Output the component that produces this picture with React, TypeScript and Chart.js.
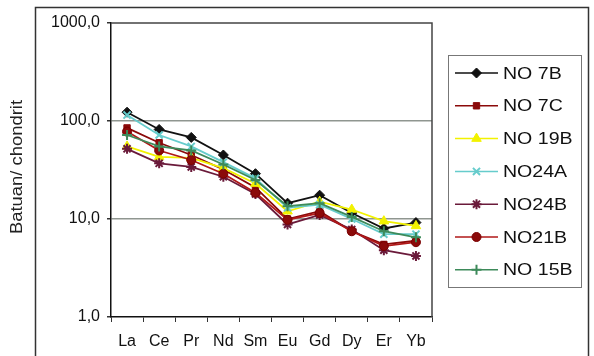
import React, { useEffect, useRef } from "react";
import { Chart, registerables } from "chart.js";
import { drawPoint } from "chart.js/helpers";

Chart.register(...registerables);

const categories = ["La", "Ce", "Pr", "Nd", "Sm", "Eu", "Gd", "Dy", "Er", "Yb"];
const yTicks = [1, 10, 100, 1000];
const yTitle = "Batuan/ chondrit";

const no7B = [123, 82, 68, 45, 29, 14.5, 17.5, 11.5, 8.0, 9.2];
const no7C = [85, 60, 45, 32, 21, 10.0, 12.0, 7.5, 5.5, 6.0];
const no19B = [55, 43, 42, 33, 23, 12.0, 15.0, 12.5, 9.5, 8.5];
const no24A = [115, 72, 55, 38, 26, 13.0, 14.0, 10.0, 7.0, 7.0];
const no24B = [52, 37, 34, 27, 18, 8.8, 11.0, 7.8, 4.8, 4.2];
const no21B = [78, 50, 40, 29, 18.5, 9.8, 11.5, 7.5, 5.3, 5.8];
const no15B = [72, 55, 50, 36, 25, 13.5, 14.5, 10.5, 7.5, 6.5];

const seriesNames = ["NO 7B", "NO 7C", "NO 19B", "NO24A", "NO24B", "NO21B", "NO 15B"];
const seriesData = [no7B, no7C, no19B, no24A, no24B, no21B, no15B];
const lineColors = ["#111111", "#8b0a0a", "#f2f200", "#66cccc", "#6a1a3a", "#b01818", "#3d8a5a"];
const markerFill = ["#111111", "#8b0a0a", "#f2f200", "#66cccc", "#6a1a3a", "#8b0a0a", "#3d8a5a"];
const markerStyles = ["rectRot", "rect", "triangle", "crossRot", "star", "circle", "cross"];
const markerRadius = [5, 4.5, 5.5, 5, 5, 4.5, 5];

const FONT = "'Liberation Sans', Arial, sans-serif";

const extrasPlugin = {
  id: "extras",
  beforeDraw(chart: any) {
    const ctx = chart.ctx;
    ctx.save();
    ctx.fillStyle = "#ffffff";
    ctx.fillRect(0, 0, chart.width, chart.height);
    ctx.restore();
  },
  afterDraw(chart: any) {
    const ctx = chart.ctx;
    const a = chart.chartArea;
    ctx.save();
    // outer frame
    ctx.strokeStyle = "#333333";
    ctx.lineWidth = 1.5;
    ctx.strokeRect(35.5, 7.5, 553, 360);
    // plot area top/right border
    ctx.strokeStyle = "#444444";
    ctx.lineWidth = 1.5;
    ctx.beginPath();
    ctx.moveTo(a.left, a.top);
    ctx.lineTo(a.right, a.top);
    ctx.lineTo(a.right, a.bottom);
    ctx.stroke();
    // y title
    ctx.fillStyle = "#222222";
    ctx.font = `16px ${FONT}`;
    ctx.textAlign = "center";
    ctx.textBaseline = "middle";
    ctx.translate(18, 167);
    ctx.rotate(-Math.PI / 2);
    ctx.scale(1.15, 1);
    ctx.fillText(yTitle, 0, 0);
    ctx.restore();

    // legend
    ctx.save();
    ctx.strokeStyle = "#777777";
    ctx.lineWidth = 1;
    ctx.strokeRect(448.5, 55.5, 133, 232);
    const rowY0 = 73;
    const rowStep = 32.8;
    chart.data.datasets.forEach((ds: any, i: number) => {
      const y = rowY0 + i * rowStep;
      ctx.strokeStyle = ds.borderColor;
      ctx.lineWidth = 1.5;
      ctx.beginPath();
      ctx.moveTo(455, y);
      ctx.lineTo(498, y);
      ctx.stroke();
      ctx.fillStyle = ds.pointBackgroundColor;
      ctx.strokeStyle = ds.pointBorderColor;
      ctx.lineWidth = ds.pointBorderWidth;
      drawPoint(ctx, { pointStyle: ds.pointStyle, radius: ds.pointRadius, rotation: 0, borderWidth: ds.pointBorderWidth }, 476.5, y);
      ctx.save();
      ctx.fillStyle = "#111111";
      ctx.font = `17px ${FONT}`;
      ctx.textAlign = "left";
      ctx.textBaseline = "middle";
      ctx.translate(503, y + 1);
      ctx.scale(1.15, 1);
      ctx.fillText(ds.label, 0, 0);
      ctx.restore();
    });
    ctx.restore();
  },
};

export default function App() {
  const ref = useRef<HTMLCanvasElement | null>(null);
  useEffect(() => {
    if (!ref.current) return;
    const datasets = seriesNames.map((name, i) => ({
      label: name,
      data: seriesData[i],
      borderColor: lineColors[i],
      backgroundColor: markerFill[i],
      pointBackgroundColor: markerFill[i],
      pointBorderColor: i === 5 ? "#7a0000" : lineColors[i],
      pointBorderWidth: markerStyles[i] === "crossRot" || markerStyles[i] === "cross" || markerStyles[i] === "star" ? 2 : 1,
      pointStyle: markerStyles[i],
      pointRadius: markerRadius[i],
      borderWidth: 1.8,
      tension: 0,
      fill: false,
      order: seriesNames.length - i,
    }));
    const chart = new Chart(ref.current, {
      type: "line",
      data: { labels: categories, datasets },
      options: {
        animation: false,
        responsive: false,
        devicePixelRatio: 1,
        layout: { padding: { left: 0, right: 162, top: 23, bottom: 0 } },
        plugins: { legend: { display: false }, tooltip: { enabled: false } },
        scales: {
          x: {
            type: "category",
            offset: true,
            grid: {
              offset: true,
              drawOnChartArea: false,
              drawTicks: true,
              tickLength: 5,
              tickColor: "#333333",
            },
            border: { display: true, color: "#111111", width: 1.5 },
            ticks: {
              color: "#111111",
              font: { family: FONT, size: 16 },
              padding: 10,
              maxRotation: 0,
              autoSkip: false,
            },
            afterFit(scale: any) {
              scale.height = 39;
            },
          },
          y: {
            type: "logarithmic",
            min: 1,
            max: 1000,
            afterBuildTicks(scale: any) {
              scale.ticks = yTicks.map((v) => ({ value: v }));
            },
            afterFit(scale: any) {
              scale.width = 111;
            },
            grid: {
              color: (c: any) =>
                c.tick && (c.tick.value === 10 || c.tick.value === 100) ? "#8f9690" : "rgba(0,0,0,0)",
              lineWidth: 1.5,
              tickLength: 4,
              tickColor: "#333333",
            },
            border: { display: true, color: "#111111", width: 1.5 },
            ticks: {
              color: "#111111",
              font: { family: FONT, size: 16 },
              padding: 7,
              callback: (v: any) => Number(v).toFixed(1).replace(".", ","),
            },
          },
        },
      },
      plugins: [extrasPlugin],
    });
    return () => chart.destroy();
  }, []);
  return (
    <div style={{ position: "fixed", left: 0, top: 0, width: 594, height: 356, background: "#fff" }}>
      <canvas ref={ref} width={594} height={356} style={{ width: 594, height: 356, display: "block" }} />
    </div>
  );
}
